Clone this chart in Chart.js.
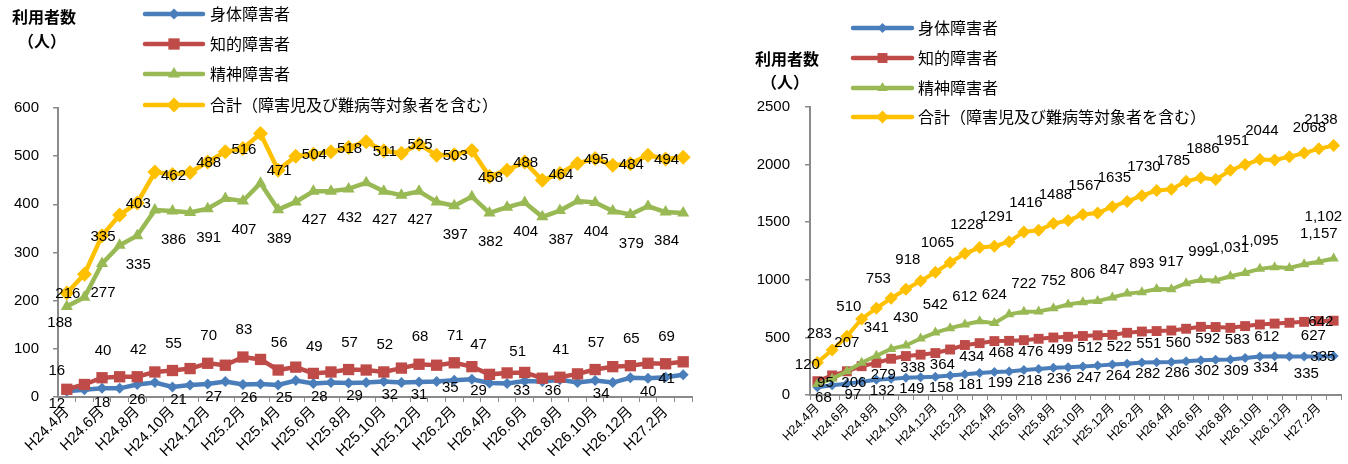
<!DOCTYPE html>
<html lang="ja">
<head>
<meta charset="utf-8">
<title>利用者数の推移</title>
<script src="https://cdn.jsdelivr.net/npm/chart.js"></script>
<style>
html,body{margin:0;padding:0;background:#fff;}
#wrap{position:relative;width:1348px;height:464px;overflow:hidden;background:#fff;}
canvas{position:absolute;top:0;}
#leftChart{left:0;}
#rightChart{left:700px;}
</style>
</head>
<body>
<div id="wrap">
<canvas id="leftChart" width="700" height="464"></canvas>
<canvas id="rightChart" width="648" height="464"></canvas>
</div>
<script>
// 月別カテゴリ（H24.4月〜H27.3月）
const months = [
  'H24.4月','H24.5月','H24.6月','H24.7月','H24.8月','H24.9月','H24.10月','H24.11月','H24.12月','H25.1月','H25.2月','H25.3月',
  'H25.4月','H25.5月','H25.6月','H25.7月','H25.8月','H25.9月','H25.10月','H25.11月','H25.12月','H26.1月','H26.2月','H26.3月',
  'H26.4月','H26.5月','H26.6月','H26.7月','H26.8月','H26.9月','H26.10月','H26.11月','H26.12月','H27.1月','H27.2月','H27.3月'
];

const seriesNames = ['身体障害者', '知的障害者', '精神障害者', '合計（障害児及び難病等対象者を含む）'];

// 左グラフ
const leftPhysical = [12,15,18,18,26,30,21,25,27,32,26,27,25,34,28,30,29,30,32,30,31,32,35,37,29,28,33,32,36,30,34,30,40,39,41,46];
const leftIntellectual = [16,26,40,42,42,52,55,59,70,66,83,78,56,62,49,52,57,56,52,60,68,66,71,63,47,50,51,39,41,48,57,63,65,70,69,73];
const leftMental = [188,207,277,315,335,388,386,383,391,412,407,444,389,405,427,427,432,445,427,419,427,405,397,416,382,394,404,374,387,407,404,386,379,396,384,382];
const leftTotal = [216,255,335,378,403,467,462,466,488,509,516,547,471,500,504,509,518,530,511,506,525,502,503,512,458,471,488,450,464,485,495,481,484,502,494,498];
const leftTicks = [0,100,200,300,400,500,600];

// 右グラフ
const rightPhysical = [68,85,97,115,132,140,149,155,158,170,181,190,199,205,218,225,236,240,247,255,264,272,282,284,286,292,302,305,309,322,334,336,335,334,335,338];
const rightIntellectual = [120,170,206,250,279,315,338,350,364,395,434,450,468,470,476,488,499,505,512,518,522,540,551,555,560,575,592,590,583,598,612,620,627,635,642,645];
const rightMental = [95,140,207,280,341,400,430,490,542,580,612,640,624,700,722,725,752,785,806,815,847,880,893,920,917,970,999,995,1031,1060,1095,1110,1102,1135,1157,1185];
const rightTotal = [283,390,510,660,753,840,918,990,1065,1150,1228,1280,1291,1330,1416,1430,1488,1515,1567,1580,1635,1680,1730,1775,1785,1855,1886,1870,1951,2000,2044,2040,2068,2100,2138,2165];
const rightTicks = [0,500,1000,1500,2000,2500];

const COLORS = ['#4A7EBB', '#BE4B48', '#98B954', '#FFC000'];
const STYLES = ['rectRot', 'rect', 'triangle', 'rectRot'];
const NUM_FONT = "'Liberation Sans', 'Noto Sans CJK JP', sans-serif";
const JP_FONT = "'Noto Sans CJK JP', sans-serif";
const AXIS_GRAY = '#8a8a8a';

Chart.defaults.font.family = NUM_FONT;
Chart.defaults.color = '#000';

// 凡例（グラフ上部に縦並び）
function legendPlugin(o) {
  return {
    id: 'sideLegend',
    afterDraw(chart) {
      const ctx = chart.ctx;
      chart.data.datasets.forEach((ds, k) => {
        const y = o.rows[k];
        ctx.save();
        ctx.strokeStyle = ds.borderColor;
        ctx.lineWidth = o.lineWidth;
        ctx.lineCap = 'round';
        ctx.beginPath();
        ctx.moveTo(o.x1, y);
        ctx.lineTo(o.x2, y);
        ctx.stroke();
        ctx.fillStyle = ds.borderColor;
        Chart.helpers.drawPoint(ctx, {
          pointStyle: ds.pointStyle, radius: ds.pointRadius, rotation: 0, borderWidth: 0
        }, (o.x1 + o.x2) / 2, y);
        ctx.fillStyle = '#000';
        ctx.font = o.font;
        ctx.textAlign = 'left';
        ctx.textBaseline = 'middle';
        ctx.fillText(ds.label, o.textX, y);
        ctx.restore();
      });
    }
  };
}

// 縦軸タイトル
function axisTitlePlugin(o) {
  return {
    id: 'axisTitle',
    afterDraw(chart) {
      const ctx = chart.ctx;
      ctx.save();
      ctx.fillStyle = '#000';
      ctx.font = 'bold 16px ' + JP_FONT;
      ctx.textAlign = 'center';
      ctx.textBaseline = 'middle';
      ctx.fillText('利用者数', o.x, o.y1);
      ctx.fillText('（人）', o.x - 2, o.y2);
      ctx.restore();
    }
  };
}

// データラベル（偶数月ごと）
function valueLabelPlugin(o) {
  return {
    id: 'valueLabels',
    afterDatasetsDraw(chart) {
      const ctx = chart.ctx;
      ctx.save();
      ctx.font = o.font;
      ctx.fillStyle = '#000';
      ctx.textAlign = 'center';
      ctx.textBaseline = 'middle';
      chart.data.datasets.forEach((ds, k) => {
        const meta = chart.getDatasetMeta(k);
        meta.data.forEach((pt, i) => {
          if (i % 2 !== 0) return;
          const off = o.overrides[k + ':' + i] || o.offsets[k];
          const v = ds.data[i];
          const txt = o.comma[k] ? v.toLocaleString('en-US') : String(v);
          ctx.fillText(txt, pt.x + off[0], pt.y + off[1]);
        });
      });
      ctx.restore();
    }
  };
}

function buildChart(id, cfg) {
  const datasets = cfg.series.map((vals, k) => ({
    label: seriesNames[k],
    data: vals,
    borderColor: COLORS[k],
    backgroundColor: COLORS[k],
    pointBackgroundColor: COLORS[k],
    pointBorderColor: COLORS[k],
    pointBorderWidth: 0,
    pointStyle: STYLES[k],
    pointRadius: cfg.radii[k],
    borderWidth: cfg.lineWidth,
    tension: 0,
    fill: false,
    order: 3 - k
  }));
  return new Chart(document.getElementById(id), {
    type: 'line',
    data: { labels: months, datasets },
    options: {
      responsive: false,
      animation: false,
      events: [],
      layout: { padding: cfg.padding },
      plugins: { legend: { display: false }, tooltip: { enabled: false } },
      scales: {
        x: {
          type: 'category',
          offset: true,
          grid: { display: true, offset: true, drawOnChartArea: false, drawTicks: true, tickLength: 5, color: AXIS_GRAY, lineWidth: 1 },
          border: { display: true, color: AXIS_GRAY, width: 2 },
          ticks: {
            autoSkip: false, minRotation: 45, maxRotation: 45, padding: 1,
            color: '#000', font: { size: cfg.xFont, family: NUM_FONT },
            callback(value, index) { return index % 2 === 0 ? this.getLabelForValue(value) : ''; }
          },
          afterFit(scale) { scale.height = cfg.xHeight; }
        },
        y: {
          min: cfg.yTicks[0],
          max: cfg.yTicks[cfg.yTicks.length - 1],
          afterBuildTicks(scale) { scale.ticks = cfg.yTicks.map(v => ({ value: v })); },
          grid: { display: true, drawOnChartArea: false, drawTicks: true, tickLength: 5, color: AXIS_GRAY, lineWidth: 1.5 },
          border: { display: true, color: AXIS_GRAY, width: 2 },
          ticks: {
            padding: cfg.yPad, color: '#000', font: { size: 15, family: NUM_FONT },
            callback(value) { return String(value); }
          },
          afterFit(scale) { scale.width = cfg.yWidth; }
        }
      }
    },
    plugins: [
      legendPlugin(cfg.legend),
      axisTitlePlugin(cfg.title),
      valueLabelPlugin(cfg.labels)
    ]
  });
}

buildChart('leftChart', {
  series: [leftPhysical, leftIntellectual, leftMental, leftTotal],
  yTicks: leftTicks,
  radii: [5.5, 8, 7, 7.5],
  lineWidth: 4.5,
  padding: { left: 0, right: 8, top: 108, bottom: 0 },
  xHeight: 67,
  yWidth: 58,
  yPad: 14,
  xFont: 15,
  legend: { x1: 145, x2: 203, textX: 210, rows: [14, 44, 74, 105], lineWidth: 4.5, font: '16px ' + JP_FONT },
  title: { x: 44, y1: 17, y2: 41 },
  labels: {
    font: '15px ' + NUM_FONT,
    offsets: [[6, 13], [1, -27], [1, 29], [1, 1]],
    comma: [false, false, false, false],
    overrides: {
      '0:0': [-10, 13], '1:0': [-10, -18], '2:0': [-7, 16],
      '0:2': [0, 15], '0:4': [0, 15], '0:20': [0, 13], '0:22': [-4, 8], '0:24': [-11, 8],
      '0:26': [-3, 10], '0:28': [-7, 11], '0:32': [18, 14], '0:34': [1, 2],
      '1:24': [-11, -30], '1:26': [-7, -21]
    }
  }
});

buildChart('rightChart', {
  series: [rightPhysical, rightIntellectual, rightMental, rightTotal],
  yTicks: rightTicks,
  radii: [5, 7, 6, 6.5],
  lineWidth: 4,
  padding: { left: 0, right: 0, top: 107, bottom: 0 },
  xHeight: 69,
  yWidth: 110,
  yPad: 15,
  xFont: 12.5,
  legend: { x1: 153, x2: 212, textX: 218, rows: [28, 58, 88, 117], lineWidth: 4.5, font: '16px ' + JP_FONT },
  title: { x: 87, y1: 59, y2: 82 },
  labels: {
    font: '15px ' + NUM_FONT,
    offsets: [[6, 11], [7, 12], [0, -28], [2, -29]],
    comma: [false, false, true, false],
    overrides: {
      '1:0': [-10, -16], '2:0': [8, -1],
      '2:32': [34, -51], '3:32': [20, -29],
      '0:32': [17, 17], '0:34': [4, 0],
      '1:32': [24, 13], '1:34': [2, 1]
    }
  }
});
</script>
</body>
</html>
